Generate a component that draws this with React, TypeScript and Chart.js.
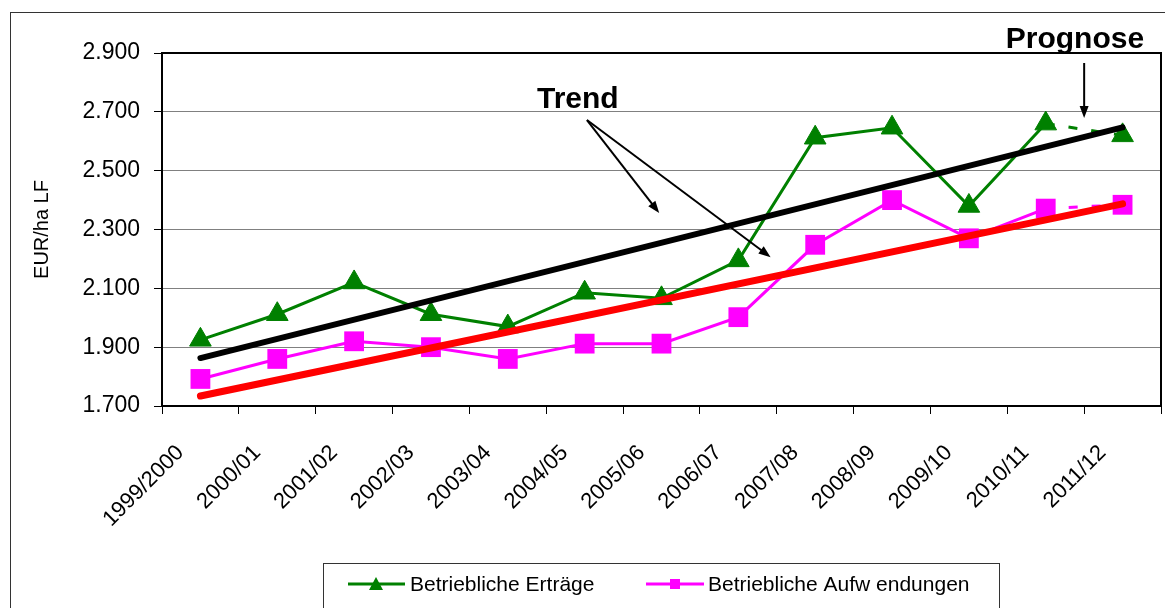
import { useEffect, useRef } from "react";
import { Chart, registerables } from "chart.js";

Chart.register(...registerables);

const categories = [
  "1999/2000", "2000/01", "2001/02", "2002/03", "2003/04", "2004/05", "2005/06",
  "2006/07", "2007/08", "2008/09", "2009/10", "2010/11", "2011/12",
];
const ertraege = [1925, 2012, 2120, 2012, 1970, 2085, 2066, 2195, 2612, 2646, 2380, 2660, 2620];
const aufwendungen = [1792, 1860, 1920, 1900, 1860, 1912, 1912, 2002, 2248, 2400, 2270, 2371, 2384];
const trendErtraege = [1863, null, null, null, null, null, null, null, null, null, null, null, 2647];
const trendAufwendungen = [1734, null, null, null, null, null, null, null, null, null, null, null, 2387];
const yMin = 1700;
const yMax = 2900;
const yStep = 200;
const seriesLabels = ["Betriebliche Erträge", "Betriebliche Aufw endungen"];
const yTitle = "EUR/ha LF";

// annotations in data coordinates [category index, value]
const trendText = { text: "Trend", at: [4.38, 2713] };
const trendArrows = [
  [[5.03, 2672], [5.97, 2356]],
  [[5.03, 2672], [7.42, 2206]],
];
const prognoseText = { text: "Prognose", at: [10.48, 2917] };
const prognoseArrow = [[11.5, 2866], [11.5, 2679]];

const FONT = "'Liberation Sans', Arial, sans-serif";
const forecastFrom = categories.length - 2;

function drawArrow(ctx: CanvasRenderingContext2D, x1: number, y1: number, x2: number, y2: number) {
  const ang = Math.atan2(y2 - y1, x2 - x1);
  const len = 12;
  const hw = 4.5;
  const bx = x2 - Math.cos(ang) * len;
  const by = y2 - Math.sin(ang) * len;
  ctx.save();
  ctx.strokeStyle = "#000";
  ctx.fillStyle = "#000";
  ctx.lineWidth = 2;
  ctx.beginPath();
  ctx.moveTo(x1, y1);
  ctx.lineTo(bx + Math.cos(ang) * 3, by + Math.sin(ang) * 3);
  ctx.stroke();
  ctx.beginPath();
  ctx.moveTo(x2, y2);
  ctx.lineTo(bx - Math.sin(ang) * hw, by + Math.cos(ang) * hw);
  ctx.lineTo(bx + Math.sin(ang) * hw, by - Math.cos(ang) * hw);
  ctx.closePath();
  ctx.fill();
  ctx.restore();
}

const decorPlugin = {
  id: "decor",
  beforeDraw(chart: any) {
    const ctx = chart.ctx as CanvasRenderingContext2D;
    ctx.save();
    ctx.fillStyle = "#fff";
    ctx.fillRect(0, 0, chart.width, chart.height);
    ctx.strokeStyle = "#333";
    ctx.lineWidth = 1;
    ctx.strokeRect(10.5, 12.5, chart.width + 50, chart.height + 50);
    ctx.restore();
  },
  beforeDatasetsDraw(chart: any) {
    const ctx = chart.ctx as CanvasRenderingContext2D;
    const a = chart.chartArea;
    ctx.save();
    ctx.strokeStyle = "#000";
    ctx.lineWidth = 2;
    ctx.strokeRect(a.left, a.top, a.right - a.left, a.bottom - a.top);
    ctx.restore();
  },
  afterDraw(chart: any) {
    const ctx = chart.ctx as CanvasRenderingContext2D;
    const xs = chart.scales.x;
    const ys = chart.scales.y;
    const P = (p: number[]) => [xs.getPixelForValue(p[0]), ys.getPixelForValue(p[1])];
    ctx.save();
    ctx.fillStyle = "#000";
    ctx.font = `bold 30px ${FONT}`;
    ctx.textAlign = "left";
    ctx.textBaseline = "alphabetic";
    const t = P(trendText.at);
    ctx.fillText(trendText.text, t[0], t[1]);
    const pr = P(prognoseText.at);
    ctx.fillText(prognoseText.text, pr[0], pr[1]);
    ctx.restore();
    for (const ar of trendArrows) {
      const s = P(ar[0]);
      const e = P(ar[1]);
      drawArrow(ctx, s[0], s[1], e[0], e[1]);
    }
    {
      const s = P(prognoseArrow[0]);
      const e = P(prognoseArrow[1]);
      drawArrow(ctx, s[0], s[1], e[0], e[1]);
    }

    // legend
    ctx.save();
    ctx.strokeStyle = "#333";
    ctx.lineWidth = 1;
    ctx.strokeRect(323.5, 563.5, 676, 100);
    const cy = 584;
    ctx.strokeStyle = "#008000";
    ctx.lineWidth = 3;
    ctx.beginPath();
    ctx.moveTo(348, cy);
    ctx.lineTo(405, cy);
    ctx.stroke();
    ctx.fillStyle = "#008000";
    ctx.beginPath();
    ctx.moveTo(376, cy - 7);
    ctx.lineTo(383, cy + 6);
    ctx.lineTo(369, cy + 6);
    ctx.closePath();
    ctx.fill();
    ctx.strokeStyle = "#ff00ff";
    ctx.beginPath();
    ctx.moveTo(646, cy);
    ctx.lineTo(704, cy);
    ctx.stroke();
    ctx.fillStyle = "#ff00ff";
    ctx.fillRect(670, cy - 5, 10, 10);
    ctx.fillStyle = "#000";
    ctx.font = `21px ${FONT}`;
    ctx.textAlign = "left";
    ctx.textBaseline = "middle";
    ctx.fillText(seriesLabels[0], 410, cy + 1);
    ctx.fillText(seriesLabels[1], 708, cy + 1);
    ctx.restore();
  },
};

export default function App() {
  const ref = useRef<HTMLCanvasElement | null>(null);
  useEffect(() => {
    if (!ref.current) return;
    const dashSeg = {
      borderDash: (c: any) => (c.p0DataIndex >= forecastFrom ? [9, 14] : undefined),
    };
    const chart = new Chart(ref.current, {
      type: "line",
      data: {
        labels: categories,
        datasets: [
          {
            label: "Trend Erträge",
            data: trendErtraege,
            borderColor: "#000",
            borderWidth: 6,
            borderCapStyle: "round",
            pointRadius: 0,
            spanGaps: true,
            order: 0,
          },
          {
            label: "Trend Aufwendungen",
            data: trendAufwendungen,
            borderColor: "#ff0000",
            borderWidth: 7,
            borderCapStyle: "round",
            pointRadius: 0,
            spanGaps: true,
            order: 0,
          },
          {
            label: seriesLabels[0],
            data: ertraege,
            borderColor: "#008000",
            backgroundColor: "#008000",
            borderWidth: 3,
            pointStyle: "triangle",
            pointRadius: 12.5,
            pointBorderWidth: 1,
            pointBackgroundColor: "#008000",
            pointBorderColor: "#008000",
            segment: dashSeg,
            order: 1,
          },
          {
            label: seriesLabels[1],
            data: aufwendungen,
            borderColor: "#ff00ff",
            backgroundColor: "#ff00ff",
            borderWidth: 3,
            pointStyle: "rect",
            pointRadius: 14,
            pointBorderWidth: 0,
            pointBackgroundColor: "#ff00ff",
            pointBorderColor: "#ff00ff",
            segment: dashSeg,
            order: 1,
          },
        ],
      } as any,
      options: {
        responsive: false,
        animation: false,
        devicePixelRatio: 1,
        layout: { autoPadding: false, padding: { top: 53, right: 4, left: 0, bottom: 0 } },
        plugins: { legend: { display: false }, tooltip: { enabled: false }, title: { display: false } },
        scales: {
          x: {
            type: "category",
            offset: true,
            grid: { offset: true, drawOnChartArea: false, drawTicks: true, tickLength: 8, tickColor: "#000", tickWidth: 1 },
            border: { color: "#000", width: 2 },
            ticks: {
              minRotation: 45,
              maxRotation: 45,
              autoSkip: false,
              color: "#000",
              font: { family: FONT, size: 22 },
              padding: 26,
              labelOffset: -20,
            },
            afterFit: (s: any) => {
              s.height = 202;
              s.paddingLeft = 0;
              s.paddingRight = 0;
            },
          },
          y: {
            min: yMin,
            max: yMax,
            ticks: {
              stepSize: yStep,
              color: "#000",
              font: { family: FONT, size: 23 },
              padding: 14,
              callback: (v: any) => (Number(v) / 1000).toFixed(3),
            },
            grid: { color: "#808080", lineWidth: 1, tickLength: 8, tickColor: "#000" },
            border: { color: "#000", width: 2 },
            title: {
              display: true,
              text: yTitle,
              color: "#000",
              font: { family: FONT, size: 20 },
              padding: { top: 30, bottom: 0 },
            },
            afterFit: (s: any) => {
              s.width = 162;
              s.paddingTop = 0;
              s.paddingBottom = 0;
            },
          },
        },
      } as any,
      plugins: [decorPlugin],
    });
    return () => chart.destroy();
  }, []);
  return (
    <div style={{ position: "fixed", left: 0, top: 0, width: 1165, height: 608, background: "#fff" }}>
      <canvas ref={ref} width={1165} height={608} style={{ display: "block" }} />
    </div>
  );
}
